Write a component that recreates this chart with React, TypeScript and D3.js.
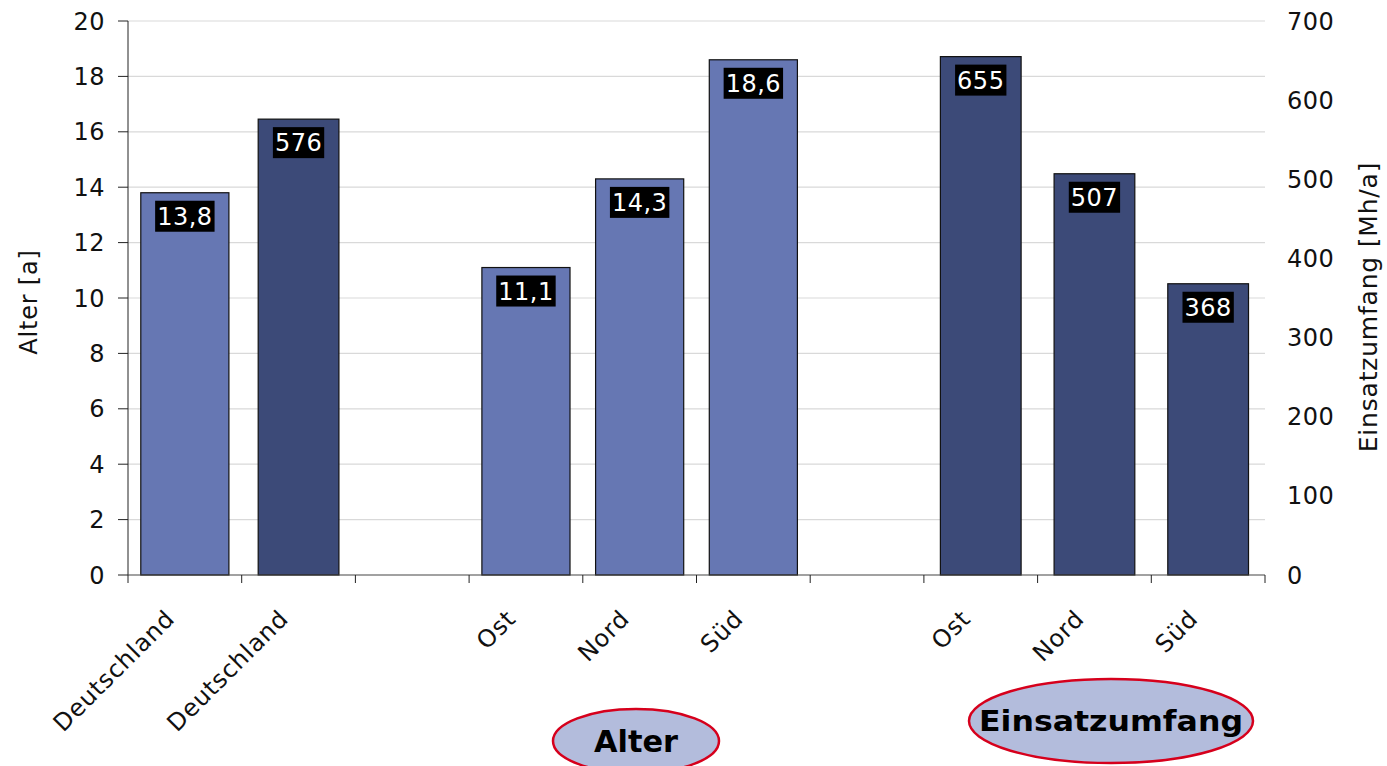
import React, { useEffect, useRef } from "react";
import * as d3 from "d3";

// Slots along the category axis (empty strings are spacer slots)
const categories = ["Deutschland", "Deutschland", "", "Ost", "Nord", "Süd", "", "Ost", "Nord", "Süd"];
// Alter [a] (left axis) per slot
const alterValues: (number | null)[] = [13.8, null, null, 11.1, 14.3, 18.6, null, null, null, null];
// Einsatzumfang [Mh/a] (right axis) per slot
const einsatzValues: (number | null)[] = [null, 576, null, null, null, null, null, 655, 507, 368];
const leftTicks = [0, 2, 4, 6, 8, 10, 12, 14, 16, 18, 20];
const rightTicks = [0, 100, 200, 300, 400, 500, 600, 700];
const groupTags = ["Alter", "Einsatzumfang"];

const W = 1387;
const H = 766;
const FONT = "'DejaVu Sans', Verdana, sans-serif";

export default function App() {
  const ref = useRef<SVGSVGElement>(null);

  useEffect(() => {
    const svg = d3.select(ref.current);
    svg.selectAll("*").remove();

    const left = 128, right = 1265, top = 21, bottom = 575;
    const x = d3.scaleBand<number>().domain(d3.range(categories.length)).range([left, right]).padding(0);
    const yL = d3.scaleLinear().domain([0, 20]).range([bottom, top]);
    const yR = d3.scaleLinear().domain([0, 700]).range([bottom, top]);

    const comma = d3.formatLocale({ decimal: ",", thousands: ".", grouping: [3], currency: ["", "€"] }).format(".1f");

    // gridlines
    svg.append("g")
      .selectAll("line")
      .data(leftTicks.filter((t) => t > 0))
      .join("line")
      .attr("x1", left).attr("x2", right)
      .attr("y1", (d) => yL(d)).attr("y2", (d) => yL(d))
      .attr("stroke", "#d9d9d9").attr("stroke-width", 1.2);

    // left axis
    const gL = svg.append("g").attr("transform", `translate(${left},0)`);
    gL.append("line").attr("x1", 0).attr("x2", 0).attr("y1", top).attr("y2", bottom).attr("stroke", "#222");
    gL.selectAll("line.tick").data(leftTicks).join("line").attr("class", "tick")
      .attr("x1", -10).attr("x2", 0).attr("y1", (d) => yL(d)).attr("y2", (d) => yL(d)).attr("stroke", "#222");
    gL.selectAll("text").data(leftTicks).join("text")
      .attr("x", -23).attr("y", (d) => yL(d)).attr("dy", "0.36em")
      .attr("text-anchor", "end").attr("font-family", FONT).attr("font-size", 24).attr("fill", "#111")
      .attr("letter-spacing", 0.5)
      .text((d) => d);

    // right axis labels
    svg.append("g").selectAll("text").data(rightTicks).join("text")
      .attr("x", 1287).attr("y", (d) => yR(d)).attr("dy", "0.36em")
      .attr("text-anchor", "start").attr("font-family", FONT).attr("font-size", 24).attr("fill", "#111")
      .attr("letter-spacing", 0.5)
      .text((d) => d);

    // axis titles
    svg.append("text")
      .attr("transform", `translate(37,302) rotate(-90)`)
      .attr("text-anchor", "middle").attr("font-family", FONT).attr("font-size", 24).attr("fill", "#111")
      .attr("letter-spacing", 0.8)
      .text("Alter [a]");
    svg.append("text")
      .attr("transform", `translate(1377,307) rotate(-90)`)
      .attr("text-anchor", "middle").attr("font-family", FONT).attr("font-size", 25).attr("fill", "#111")
      .attr("letter-spacing", 0.8)
      .text("Einsatzumfang [Mh/a]");

    // bars
    const drawBars = (vals: (number | null)[], y: d3.ScaleLinear<number, number>, frac: number, fill: string, fmt: (v: number) => string) => {
      const data = vals.map((v, i) => ({ v, i })).filter((d) => d.v !== null) as { v: number; i: number }[];
      const bw = x.bandwidth() * frac;
      const g = svg.append("g");
      g.selectAll("rect").data(data).join("rect")
        .attr("x", (d) => x(d.i)! + (x.bandwidth() - bw) / 2)
        .attr("y", (d) => y(d.v))
        .attr("width", bw)
        .attr("height", (d) => bottom - y(d.v))
        .attr("fill", fill).attr("stroke", "#111").attr("stroke-width", 1.2);
      const lbl = g.selectAll("g.lbl").data(data).join("g").attr("class", "lbl");
      lbl.append("rect").attr("fill", "#000");
      lbl.append("text")
        .attr("x", (d) => x(d.i)! + x.bandwidth() / 2)
        .attr("y", (d) => y(d.v) + 32)
        .attr("text-anchor", "middle").attr("font-family", FONT).attr("font-size", 24).attr("fill", "#fff")
        .attr("letter-spacing", 0.5)
        .text((d) => fmt(d.v));
      lbl.each(function (d) {
        const t = d3.select(this).select<SVGTextElement>("text");
        const w = t.node()!.getComputedTextLength();
        d3.select(this).select("rect")
          .attr("x", x(d.i)! + x.bandwidth() / 2 - w / 2 - 2)
          .attr("y", y(d.v) + 8)
          .attr("width", w + 4)
          .attr("height", 31);
      });
    };
    drawBars(alterValues, yL, 0.775, "#6677B3", (v) => comma(v));
    drawBars(einsatzValues, yR, 0.71, "#3C4A78", (v) => String(v));

    // category axis
    const gB = svg.append("g");
    gB.append("line").attr("x1", left).attr("x2", right).attr("y1", bottom).attr("y2", bottom).attr("stroke", "#444").attr("stroke-width", 1.2);
    const bounds = d3.range(categories.length + 1).map((i) => left + i * x.bandwidth());
    gB.selectAll("line.tick").data(bounds).join("line").attr("class", "tick")
      .attr("x1", (d) => d).attr("x2", (d) => d).attr("y1", bottom).attr("y2", bottom + 8).attr("stroke", "#222");
    gB.selectAll("text").data(categories.map((c, i) => ({ c, i })).filter((d) => d.c)).join("text")
      .attr("transform", (d) => `translate(${x(d.i)! + x.bandwidth() / 2 - 21},${608}) rotate(-45)`)
      .attr("dy", "0.72em")
      .attr("text-anchor", "end").attr("font-family", FONT).attr("font-size", 24).attr("fill", "#111")
      .attr("letter-spacing", 0.8)
      .text((d) => d.c);

    // group tags
    const tags = [
      { text: groupTags[0], cx: 636, cy: 741, rx: 83, ry: 32, size: 30, len: 84 },
      { text: groupTags[1], cx: 1111, cy: 721, rx: 142, ry: 42, size: 29, len: 264 },
    ];
    const gt = svg.append("g").selectAll("g").data(tags).join("g");
    gt.append("ellipse")
      .attr("cx", (d) => d.cx).attr("cy", (d) => d.cy).attr("rx", (d) => d.rx).attr("ry", (d) => d.ry)
      .attr("fill", "#B3BCDC").attr("stroke", "#D6001C").attr("stroke-width", 2.5);
    gt.append("text")
      .attr("x", (d) => d.cx).attr("y", (d) => d.cy).attr("dy", "0.36em")
      .attr("text-anchor", "middle").attr("font-family", FONT).attr("font-weight", "bold")
      .attr("font-size", (d) => d.size).attr("fill", "#000")
      .attr("textLength", (d) => d.len).attr("lengthAdjust", "spacingAndGlyphs")
      .text((d) => d.text);
  }, []);

  return (
    <svg ref={ref} width={W} height={H} style={{ position: "absolute", left: 0, top: 0, background: "#fff" }} />
  );
}
